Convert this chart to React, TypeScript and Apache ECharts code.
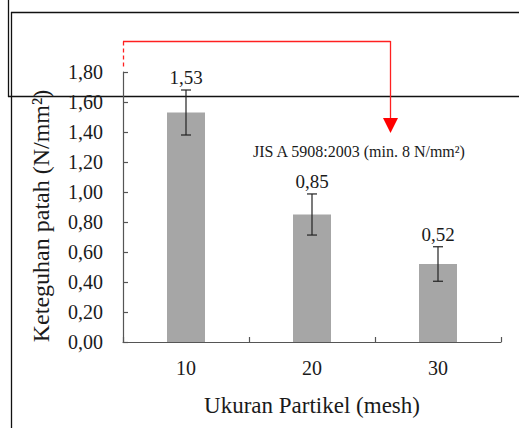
import React, { useEffect, useRef } from "react";
import * as echarts from "echarts";

const particleSizes = [10, 20, 30];
const strengthValues = [1.53, 0.85, 0.52];
const errorValues = [0.15, 0.137, 0.115];
const yTicks = { min: 0, max: 1.8, interval: 0.2 };
const xTitle = "Ukuran Partikel (mesh)";
const yTitle = "Keteguhan patah (N/mm²)";
const noteText = "JIS A 5908:2003 (min. 8 N/mm²)";

const FONT = "Liberation Serif";
const fmt = (v: number) => v.toFixed(2).replace(".", ",");

export default function App() {
  const ref = useRef<HTMLDivElement>(null);
  useEffect(() => {
    if (!ref.current) return;
    const chart = echarts.init(ref.current, null, { renderer: "svg" });
    const barData = particleSizes.map((x, i) => [x, strengthValues[i]]);
    const errData = particleSizes.map((x, i) => [x, strengthValues[i], errorValues[i]]);
    const axisColor = "#555555";
    const textColor = "#1a1a1a";
    chart.setOption({
      animation: false,
      textStyle: { fontFamily: FONT },
      grid: { left: 123, right: 18, top: 72, bottom: 86 },
      xAxis: {
        type: "value",
        min: 5,
        max: 35,
        interval: 5,
        name: xTitle,
        nameLocation: "middle",
        nameGap: 52,
        nameTextStyle: { fontFamily: FONT, fontSize: 23, color: textColor },
        axisLine: { show: true, lineStyle: { color: axisColor, width: 1.2 } },
        axisTick: { show: true, inside: true, length: 5, lineStyle: { color: axisColor, width: 1.2 } },
        axisLabel: {
          margin: 16,
          fontFamily: FONT,
          fontSize: 20,
          color: textColor,
          formatter: (v: number) => (particleSizes.includes(v) ? String(v) : ""),
        },
        splitLine: { show: false },
      },
      yAxis: {
        type: "value",
        min: yTicks.min,
        max: yTicks.max,
        interval: yTicks.interval,
        name: yTitle,
        nameLocation: "middle",
        nameGap: 70,
        nameTextStyle: { fontFamily: FONT, fontSize: 24, color: textColor, padding: [0, 18, 0, 0] },
        axisLine: { show: true, lineStyle: { color: axisColor, width: 1.2 } },
        axisTick: { show: true, inside: true, length: 5, lineStyle: { color: axisColor, width: 1.2 } },
        axisLabel: {
          margin: 20,
          fontFamily: FONT,
          fontSize: 20,
          color: textColor,
          formatter: (v: number) => fmt(v),
        },
        splitLine: { show: false },
      },
      series: [
        {
          type: "bar",
          data: barData,
          barWidth: 38,
          itemStyle: { color: "#a6a6a6" },
        },
        {
          type: "custom",
          data: errData,
          z: 5,
          renderItem: (params: any, api: any) => {
            const x = api.value(0);
            const m = api.value(1);
            const e = api.value(2);
            const top = api.coord([x, m + e]);
            const bot = api.coord([x, m - e]);
            const cw = 5;
            const ls = { stroke: "#222222", lineWidth: 1.2 };
            return {
              type: "group",
              children: [
                { type: "line", shape: { x1: top[0], y1: top[1], x2: bot[0], y2: bot[1] }, style: ls },
                { type: "line", shape: { x1: top[0] - cw, y1: top[1], x2: top[0] + cw, y2: top[1] }, style: ls },
                { type: "line", shape: { x1: bot[0] - cw, y1: bot[1], x2: bot[0] + cw, y2: bot[1] }, style: ls },
                {
                  type: "text",
                  x: top[0],
                  y: top[1] - 3,
                  style: {
                    text: fmt(m),
                    fontFamily: FONT,
                    fontSize: 19,
                    fill: textColor,
                    align: "center",
                    verticalAlign: "bottom",
                  },
                },
              ],
            };
          },
        },
      ],
      graphic: [
        { type: "line", shape: { x1: 8.5, y1: 0, x2: 8.5, y2: 97 }, style: { stroke: "#111", lineWidth: 1.3 } },
        { type: "line", shape: { x1: 8, y1: 96.5, x2: 519, y2: 96.5 }, style: { stroke: "#111", lineWidth: 1.3 } },
        { type: "line", shape: { x1: 11.5, y1: 12, x2: 11.5, y2: 428 }, style: { stroke: "#111", lineWidth: 1.3 } },
        { type: "line", shape: { x1: 11, y1: 12.5, x2: 519, y2: 12.5 }, style: { stroke: "#111", lineWidth: 1.3 } },
        { type: "line", shape: { x1: 123.5, y1: 41.5, x2: 123.5, y2: 67 }, style: { stroke: "#ff2020", lineWidth: 1.3, lineDash: [4, 3] } },
        { type: "line", shape: { x1: 123, y1: 41.5, x2: 390.5, y2: 41.5 }, style: { stroke: "#ff2020", lineWidth: 1.3 } },
        { type: "line", shape: { x1: 390.5, y1: 41, x2: 390.5, y2: 120 }, style: { stroke: "#ff2020", lineWidth: 1.3 } },
        { type: "polygon", shape: { points: [[383, 118], [398, 118], [390.5, 133]] }, style: { fill: "#ff0000" } },
        {
          type: "text",
          x: 253,
          y: 151,
          style: { text: noteText, fontFamily: FONT, fontSize: 16, fill: textColor, verticalAlign: "middle" },
        },
      ],
    });
    return () => chart.dispose();
  }, []);
  return <div ref={ref} style={{ position: "absolute", left: 0, top: 0, width: 519, height: 428 }} />;
}
